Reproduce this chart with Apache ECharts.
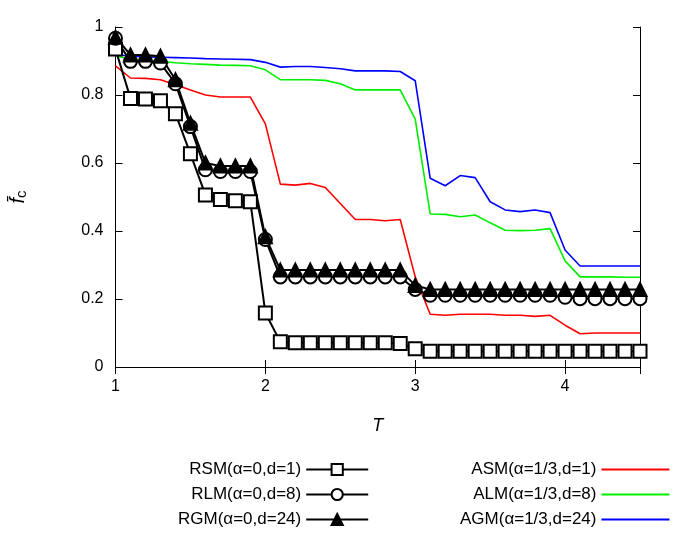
<!DOCTYPE html>
<html><head><meta charset="utf-8">
<script src="https://cdn.jsdelivr.net/npm/echarts@6/dist/echarts.min.js"></script>
<style>html,body{margin:0;padding:0;background:#fff}#c{width:692px;height:533px}</style>
</head><body><div id="c"></div>
<script>
const T = [1.0,1.1,1.2,1.3,1.4,1.5,1.6,1.7,1.8,1.9,2.0,2.1,2.2,2.3,2.4,2.5,2.6,2.7,2.8,2.9,3.0,3.1,3.2,3.3,3.4,3.5,3.6,3.7,3.8,3.9,4.0,4.1,4.2,4.3,4.4,4.5];
const RSM = [0.935,0.79,0.788,0.783,0.745,0.627,0.506,0.493,0.489,0.486,0.159,0.074,0.071,0.071,0.071,0.071,0.071,0.071,0.071,0.069,0.054,0.046,0.046,0.046,0.046,0.046,0.046,0.046,0.046,0.046,0.046,0.046,0.046,0.046,0.046,0.046];
const RLM = [0.967,0.899,0.899,0.894,0.833,0.707,0.58,0.575,0.575,0.575,0.375,0.265,0.265,0.265,0.265,0.265,0.265,0.265,0.265,0.265,0.228,0.211,0.211,0.211,0.211,0.211,0.211,0.211,0.211,0.211,0.205,0.201,0.201,0.201,0.201,0.201];
const RGM = [0.97,0.918,0.918,0.914,0.845,0.717,0.6,0.591,0.591,0.591,0.383,0.285,0.285,0.285,0.285,0.285,0.285,0.285,0.285,0.285,0.24,0.228,0.228,0.228,0.228,0.228,0.228,0.228,0.228,0.228,0.228,0.228,0.228,0.228,0.228,0.228];
const ASM = [0.886,0.85,0.849,0.845,0.83,0.815,0.8,0.794,0.794,0.794,0.715,0.538,0.535,0.54,0.528,0.481,0.434,0.434,0.43,0.434,0.265,0.155,0.152,0.155,0.155,0.155,0.152,0.152,0.149,0.152,0.123,0.098,0.1,0.1,0.1,0.1];
const ALM = [0.916,0.904,0.902,0.899,0.895,0.892,0.89,0.888,0.887,0.886,0.874,0.845,0.845,0.845,0.843,0.833,0.815,0.815,0.815,0.815,0.729,0.45,0.449,0.442,0.447,0.424,0.402,0.401,0.402,0.407,0.312,0.265,0.265,0.265,0.264,0.264];
const AGM = [0.92,0.914,0.912,0.911,0.91,0.909,0.907,0.906,0.905,0.904,0.896,0.882,0.884,0.884,0.881,0.877,0.871,0.871,0.871,0.869,0.842,0.555,0.533,0.563,0.557,0.486,0.462,0.457,0.462,0.454,0.344,0.297,0.297,0.297,0.297,0.297];
const NAMES = ['RSM(α=0,d=1)','RLM(α=0,d=8)','RGM(α=0,d=24)','ASM(α=1/3,d=1)','ALM(α=1/3,d=8)','AGM(α=1/3,d=24)'];
const XT = [1,2,3,4];
const YT = [0,0.2,0.4,0.6,0.8,1];

const pair = a => T.map((t,i)=>[t,a[i]]);
const F = 'Liberation Sans, Arial, sans-serif';
const axBase = {axisLine:{show:true,lineStyle:{color:'#000',width:1}},axisTick:{show:true,inside:true,length:7,lineStyle:{color:'#000'}},splitLine:{show:false}};
const blk = (name,data,sym,size,fill) => ({name,type:'line',data:pair(data),symbol:sym,symbolSize:size,showAllSymbol:true,
  lineStyle:{color:'#000',width:2},itemStyle:{color:fill,borderColor:'#000',borderWidth:2},color:'#000',z:5});
const col = (name,data,c) => ({name,type:'line',data:pair(data),symbol:'none',lineStyle:{color:c,width:1.6},itemStyle:{color:c},color:c});
const chart = echarts.init(document.getElementById('c'));
chart.setOption({
  animation:false,
  textStyle:{fontFamily:F},
  grid:{left:113,right:52,top:27,bottom:166},
  xAxis:[
    Object.assign({type:'value',min:1,max:4.5,interval:1,axisLabel:{color:'#000',fontSize:16,fontFamily:F,margin:12,formatter:v=>XT.includes(v)?String(v):''},
      name:'T',nameLocation:'middle',nameGap:50,nameTextStyle:{fontSize:18,fontStyle:'italic',color:'#000',fontFamily:F}},axBase),
    Object.assign({type:'value',position:'top',min:1,max:4.5,interval:1,axisLabel:{show:false}},axBase)
  ],
  yAxis:[
    Object.assign({type:'value',min:0,max:1,interval:0.2,axisLabel:{color:'#000',fontSize:16,fontFamily:F,margin:12,formatter:v=>YT.some(y=>Math.abs(y-v)<1e-9)?String(+v.toFixed(1)):''},
      name:'{f|f̄}{s|c}',nameLocation:'middle',nameGap:86,nameRotate:90,nameTextStyle:{color:'#000',rich:{f:{fontSize:20,fontStyle:'italic',fontFamily:F},s:{fontSize:15,fontFamily:F,padding:[8,0,0,0]}}}},axBase),
    Object.assign({type:'value',position:'right',min:0,max:1,interval:0.2,axisLabel:{show:false}},axBase)
  ],
  legend:[
    {data:NAMES.slice(0,3),orient:'vertical',left:173,top:456,align:'right',itemWidth:62,itemHeight:14,itemGap:8,
     textStyle:{fontSize:17,color:'#000',fontFamily:F,width:160,align:'right'}},
    {data:NAMES.slice(3).map(n=>({name:n,itemStyle:{opacity:0}})),orient:'vertical',left:455,top:456,align:'right',itemWidth:68,itemHeight:14,itemGap:8,
     textStyle:{fontSize:17,color:'#000',fontFamily:F,width:180,align:'right'}}
  ],
  series:[
    col(NAMES[3],ASM,'#ff0000'),
    col(NAMES[4],ALM,'#00ee00'),
    col(NAMES[5],AGM,'#0000ff'),
    blk(NAMES[0],RSM,'rect',13,'#fff'),
    blk(NAMES[1],RLM,'circle',13,'#fff'),
    blk(NAMES[2],RGM,'triangle',13,'#000')
  ]
});
</script></body></html>
